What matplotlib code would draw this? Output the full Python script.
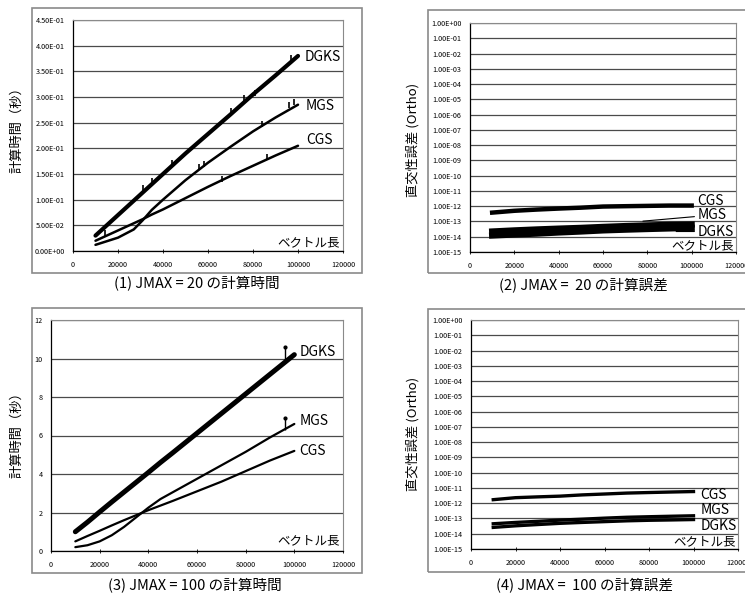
import matplotlib.pyplot as plt
from matplotlib.patches import Rectangle
from matplotlib.ticker import FixedLocator, FuncFormatter

plt.rcParams['font.family'] = ['Noto Sans CJK JP', 'DejaVu Sans']

# (1) JMAX = 20, time [s]
x1 = [10000, 20000, 27000, 31000, 35000, 40000, 50000, 60000, 70000, 80000, 90000, 100000]
dgks1 = [0.030, 0.070, 0.098, 0.114, 0.130, 0.150, 0.190, 0.228, 0.266, 0.305, 0.342, 0.380]
mgs1 = [0.012, 0.026, 0.042, 0.060, 0.080, 0.100, 0.138, 0.172, 0.203, 0.233, 0.260, 0.285]
cgs1 = [0.020, 0.040, 0.054, 0.062, 0.071, 0.081, 0.103, 0.125, 0.146, 0.166, 0.186, 0.205]
spike1_x = [31000, 35000, 44000, 70000, 76000, 81000, 97000, 56000, 58000, 84000, 96000, 98000, 14000, 66000, 86000]
spike1_y = [0.123, 0.136, 0.172, 0.272, 0.298, 0.307, 0.376, 0.163, 0.170, 0.247, 0.284, 0.290, 0.035, 0.140, 0.183]

# (2) JMAX = 20, orthogonality error
x2 = [10000, 20000, 30000, 40000, 50000, 60000, 70000, 80000, 90000, 100000]
cgs2 = [3.8e-13, 5.0e-13, 6.0e-13, 7.0e-13, 8.0e-13, 9.5e-13, 1.0e-12, 1.05e-12, 1.1e-12, 1.1e-12]
mgs2 = [2.2e-14, 2.6e-14, 3.0e-14, 3.4e-14, 3.8e-14, 4.4e-14, 5.0e-14, 5.5e-14, 6.0e-14, 6.3e-14]
dgks2 = [1.2e-14, 1.4e-14, 1.6e-14, 1.9e-14, 2.2e-14, 2.6e-14, 2.9e-14, 3.2e-14, 3.5e-14, 3.8e-14]

# (3) JMAX = 100, time [s]
x3 = [10000, 15000, 20000, 25000, 30000, 35000, 40000, 45000, 50000, 60000, 70000, 80000, 90000, 100000]
dgks3 = [1.0, 1.5, 2.03, 2.55, 3.06, 3.57, 4.08, 4.6, 5.1, 6.12, 7.14, 8.16, 9.18, 10.2]
mgs3 = [0.2, 0.3, 0.5, 0.82, 1.25, 1.75, 2.25, 2.7, 3.05, 3.75, 4.45, 5.15, 5.9, 6.6]
cgs3 = [0.5, 0.78, 1.05, 1.33, 1.6, 1.86, 2.12, 2.36, 2.6, 3.1, 3.6, 4.15, 4.7, 5.2]
spike3_x = [96000, 96000]
spike3_base = [9.8, 6.3]
spike3_top = [10.6, 6.9]

# (4) JMAX = 100, orthogonality error
x4 = [10000, 20000, 30000, 40000, 50000, 60000, 70000, 80000, 90000, 100000]
cgs4 = [1.7e-12, 2.3e-12, 2.6e-12, 2.9e-12, 3.5e-12, 4.0e-12, 4.6e-12, 5.0e-12, 5.4e-12, 5.8e-12]
mgs4 = [4.5e-14, 5.5e-14, 6.5e-14, 7.8e-14, 9.0e-14, 1.05e-13, 1.2e-13, 1.3e-13, 1.4e-13, 1.5e-13]
dgks4 = [2.6e-14, 3.3e-14, 4.0e-14, 4.8e-14, 5.5e-14, 6.2e-14, 7.0e-14, 7.6e-14, 8.0e-14, 8.5e-14]

xticks = [0, 20000, 40000, 60000, 80000, 100000, 120000]
yticks1 = [i * 0.05 for i in range(10)]
yticks3 = [0, 2, 4, 6, 8, 10, 12]
logticks = [10.0 ** -k for k in range(16)]

W, H = 745, 594
fig = plt.figure(figsize=(W / 100, H / 100), dpi=100)


def px_rect(l, t, r, b):
    return [l / W, 1 - b / H, (r - l) / W, (b - t) / H]


def frame(l, t, r, b):
    fig.patches.append(Rectangle((l / W, 1 - b / H), (r - l) / W, (b - t) / H,
                                 transform=fig.transFigure, fill=False,
                                 edgecolor='#8a8a8a', lw=1.2))


def style(ax, yticks, fmt, log=False):
    ax.set_xlim(0, 120000)
    if log:
        ax.set_yscale('log')
        ax.set_ylim(1e-15, 1)
    else:
        ax.set_ylim(yticks[0], yticks[-1])
    ax.xaxis.set_major_locator(FixedLocator(xticks))
    ax.yaxis.set_major_locator(FixedLocator(yticks))
    ax.yaxis.set_minor_locator(FixedLocator([]))
    ax.xaxis.set_major_formatter(FuncFormatter(lambda v, p: f"{int(v)}"))
    ax.yaxis.set_major_formatter(FuncFormatter(fmt))
    ax.tick_params(axis='both', labelsize=5.2, colors='black', pad=6)
    ax.tick_params(axis='y', length=0)
    ax.tick_params(axis='x', length=2.5, direction='inout', width=0.6)
    ax.grid(axis='y', color='#4a4a4a', lw=0.9)
    ax.set_axisbelow(True)
    for s in ['top', 'right']:
        ax.spines[s].set_color('#8a8a8a')
        ax.spines[s].set_linewidth(0.8)
    for s in ['left', 'bottom']:
        ax.spines[s].set_color('black')
        ax.spines[s].set_linewidth(0.9)


sci = lambda v, p: f"{v:.2E}"
lab = dict(fontsize=10, color='black')
vec = dict(fontsize=9, color='black', ha='right', va='center')
cap = dict(ha='center', va='center', fontsize=10.5)
ylab = dict(rotation=90, ha='center', va='center', fontsize=9.5)

# panel 1
frame(32, 8, 362, 273)
ax1 = fig.add_axes(px_rect(73, 20, 343, 251))
style(ax1, yticks1, sci)
ax1.plot(x1, cgs1, color='black', lw=1.8, solid_capstyle='round')
ax1.plot(x1, mgs1, color='black', lw=1.8, solid_capstyle='round')
ax1.plot(x1, dgks1, color='black', lw=3.0, solid_capstyle='round')
ax1.plot(spike1_x, spike1_y, ls='none', marker='|', color='black', ms=4, mew=1.2)
ax1.text(103000, 0.378, 'DGKS', va='center', **lab)
ax1.text(103500, 0.283, 'MGS', va='center', **lab)
ax1.text(103500, 0.216, 'CGS', va='center', **lab)
ax1.text(118500, 0.016, 'ベクトル長', **vec)
fig.text(17 / W, 1 - 127 / H, '計算時間（秒）', **ylab)
fig.text(197 / W, 1 - 283 / H, '(1) JMAX = 20 の計算時間', **cap)

# panel 2
frame(428, 10, 760, 273)
ax2 = fig.add_axes(px_rect(470, 23, 736, 252))
style(ax2, logticks, sci, log=True)
ax2.plot(x2, cgs2, color='black', lw=3.2)
ax2.plot(x2, mgs2, color='black', lw=4.5)
ax2.plot(x2, dgks2, color='black', lw=4.5)
ax2.annotate('MGS', xy=(78000, 1.05e-13), xytext=(102500, 2.6e-13), va='center',
             arrowprops=dict(arrowstyle='-', color='black', lw=0.8, shrinkA=0, shrinkB=0), **lab)
ax2.annotate('DGKS', xy=(93000, 2.2e-14), xytext=(102500, 2.2e-14), va='center',
             arrowprops=dict(arrowstyle='-', color='black', lw=0.8, shrinkA=0, shrinkB=0), **lab)
ax2.text(102500, 2.2e-12, 'CGS', va='center', **lab)
ax2.text(119000, 2.6e-15, 'ベクトル長', **vec)
fig.text(413 / W, 1 - 140 / H, '直交性誤差 (Ortho)', **ylab)
fig.text(583 / W, 1 - 285 / H, '(2) JMAX =  20 の計算誤差', **cap)

# panel 3
frame(32, 308, 362, 573)
ax3 = fig.add_axes(px_rect(51, 320, 343, 551))
style(ax3, yticks3, lambda v, p: f"{int(v)}")
ax3.plot(x3, cgs3, color='black', lw=1.6, solid_capstyle='round')
ax3.plot(x3, mgs3, color='black', lw=1.6, solid_capstyle='round')
ax3.plot(x3, dgks3, color='black', lw=3.6, solid_capstyle='round')
ax3.vlines(spike3_x, spike3_base, spike3_top, color='black', lw=1.0)
ax3.plot(spike3_x, spike3_top, ls='none', marker='o', color='black', ms=2)
ax3.text(102000, 10.35, 'DGKS', va='center', **lab)
ax3.text(102000, 6.76, 'MGS', va='center', **lab)
ax3.text(102000, 5.2, 'CGS', va='center', **lab)
ax3.text(118500, 0.52, 'ベクトル長', **vec)
fig.text(17 / W, 1 - 432 / H, '計算時間（秒）', **ylab)
fig.text(195 / W, 1 - 585 / H, '(3) JMAX = 100 の計算時間', **cap)

# panel 4
frame(428, 309, 760, 572)
ax4 = fig.add_axes(px_rect(471, 320, 738, 549))
style(ax4, logticks, sci, log=True)
ax4.plot(x4, cgs4, color='black', lw=2.4)
ax4.plot(x4, mgs4, color='black', lw=2.4)
ax4.plot(x4, dgks4, color='black', lw=2.4)
ax4.text(103000, 3.5e-12, 'CGS', va='center', **lab)
ax4.text(103000, 3.4e-13, 'MGS', va='center', **lab)
ax4.text(103000, 3.0e-14, 'DGKS', va='center', **lab)
ax4.text(119000, 3.0e-15, 'ベクトル長', **vec)
fig.text(413 / W, 1 - 434 / H, '直交性誤差 (Ortho)', **ylab)
fig.text(585 / W, 1 - 585 / H, '(4) JMAX =  100 の計算誤差', **cap)

fig.savefig('out.png', dpi=100)
